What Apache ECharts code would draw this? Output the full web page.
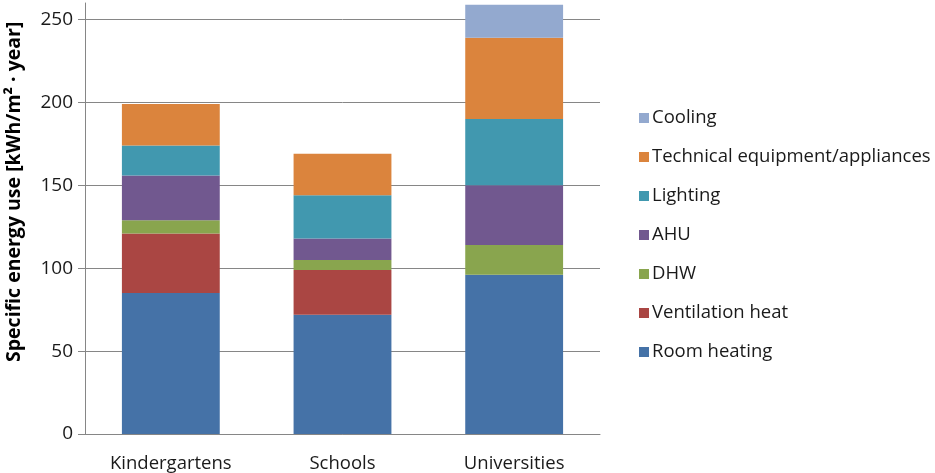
<!DOCTYPE html>
<html><head><meta charset="utf-8">
<script src="https://cdn.jsdelivr.net/npm/echarts@6/dist/echarts.min.js"></script>
<style>html,body{margin:0;padding:0;background:#fff}#c{width:935px;height:473px}</style>
</head><body><div id="c"></div>
<script>
const categories = ['Kindergartens', 'Schools', 'Universities'];
const roomHeating = [85, 72, 96];
const ventilationHeat = [36, 27, 0];
const dhw = [8, 6, 18];
const ahu = [27, 13, 36];
const lighting = [18, 26, 40];
const technical = [25, 25, 49];
const cooling = [0, 0, 20];
const yTicks = [0, 50, 100, 150, 200, 250];

const seriesDefs = [
  ['Room heating', roomHeating, '#4572A7'],
  ['Ventilation heat', ventilationHeat, '#AA4643'],
  ['DHW', dhw, '#89A54E'],
  ['AHU', ahu, '#71588F'],
  ['Lighting', lighting, '#4198AF'],
  ['Technical equipment/appliances', technical, '#DB843D'],
  ['Cooling', cooling, '#93A9CF']
];
const font = 'Open Sans';
const chart = echarts.init(document.getElementById('c'));
chart.setOption({
  animation: false,
  grid: {left: 85, right: 335, top: 3, bottom: 38, containLabel: false},
  legend: {
    orient: 'vertical', left: 634, top: 103, itemGap: 19,
    itemWidth: 10, itemHeight: 10, icon: 'rect',
    data: seriesDefs.map(s => s[0]).reverse(),
    textStyle: {fontFamily: font, fontSize: 18.5, lineHeight: 20, color: '#1a1a1a', padding: [0,0,0,-2]}
  },
  xAxis: {
    type: 'category', data: categories,
    axisLine: {lineStyle: {color: '#868686', width: 1}},
    axisTick: {show: false},
    axisLabel: {fontFamily: font, fontSize: 18.5, color: '#1a1a1a', margin: 20}
  },
  yAxis: {
    type: 'value', min: yTicks[0], max: 260, interval: 50,
    axisLine: {show: true, lineStyle: {color: '#868686'}},
    axisTick: {show: true, length: 7, lineStyle: {color: '#868686'}},
    axisLabel: {fontFamily: font, fontSize: 19, color: '#1a1a1a', margin: 12, showMaxLabel: false},
    splitLine: {show: true, showMaxLine: false, lineStyle: {color: '#868686'}}
  },
  graphic: [{
    type: 'text', rotation: Math.PI/2, x: 4, y: 362,
    style: {text: 'Specific energy use [kWh/m² · year]', font: 'bold 19.5px "Open Sans"', fill: '#000', textVerticalAlign: 'top'}
  }],
  series: seriesDefs.map(s => ({
    name: s[0], type: 'bar', stack: 'total', data: s[1], barWidth: '57%',
    itemStyle: {color: s[2]}
  }))
});
</script></body></html>
